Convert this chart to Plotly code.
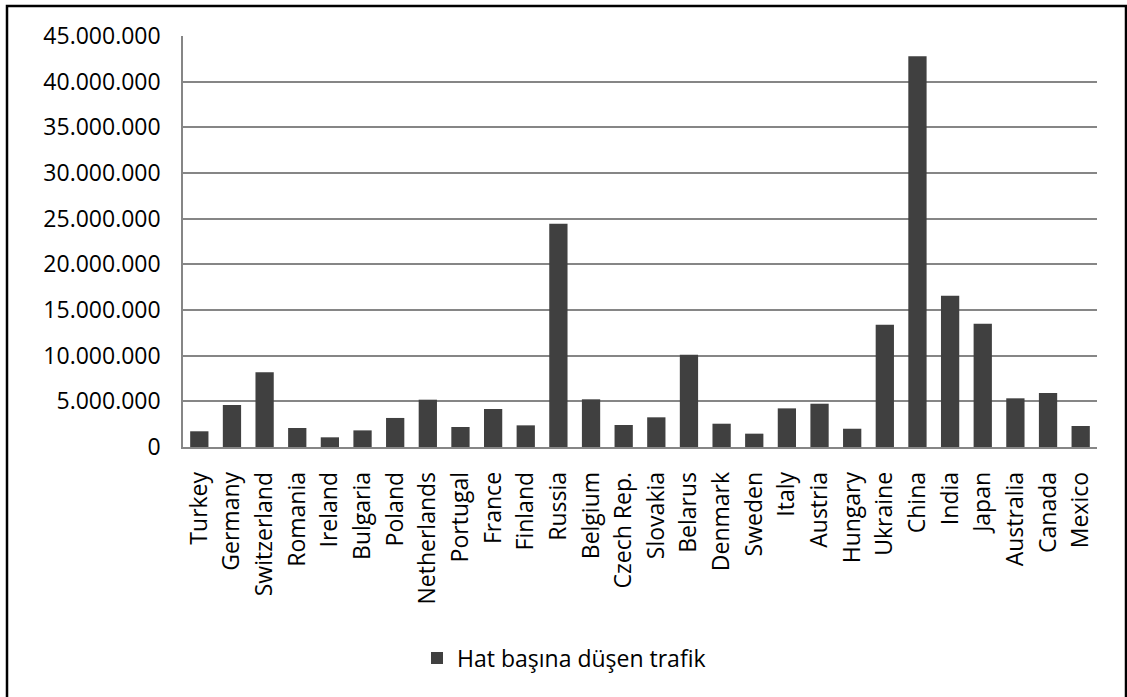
import plotly.graph_objects as go

# Traffic per line, by country
countries = [
    "Turkey", "Germany", "Switzerland", "Romania", "Ireland", "Bulgaria", "Poland",
    "Netherlands", "Portugal", "France", "Finland", "Russia", "Belgium", "Czech Rep.",
    "Slovakia", "Belarus", "Denmark", "Sweden", "Italy", "Austria", "Hungary",
    "Ukraine", "China", "India", "Japan", "Australia", "Canada", "Mexico",
]
traffic_per_line = [
    1720000, 4600000, 8180000, 2080000, 1060000, 1820000, 3180000,
    5180000, 2190000, 4160000, 2370000, 24450000, 5220000, 2410000,
    3250000, 10110000, 2550000, 1460000, 4230000, 4740000, 2000000,
    13390000, 42770000, 16570000, 13500000, 5330000, 5910000, 2300000,
]
series_name = "Hat başına düşen trafik"
y_ticks = [0, 5000000, 10000000, 15000000, 20000000, 25000000,
           30000000, 35000000, 40000000, 45000000]

W, H = 1127, 697
ML, MR, MT, MB = 183, 30, 36, 250
PW, PH = W - ML - MR, H - MT - MB

def px_x(x):
    return (x - ML) / PW

def px_y(y):
    return (H - MB - y) / PH

fig = go.Figure(
    go.Bar(
        x=countries,
        y=traffic_per_line,
        name=series_name,
        marker=dict(color="#404040", line=dict(width=0)),
        showlegend=True,
    )
)

font_family = "Open Sans, Noto Sans, sans-serif"

fig.update_layout(
    width=W,
    height=H,
    margin=dict(l=ML, r=MR, t=MT, b=MB),
    paper_bgcolor="white",
    plot_bgcolor="white",
    separators=",.",
    bargap=0.44,
    font=dict(family=font_family, color="black", size=23),
    showlegend=True,
    legend=dict(
        orientation="h",
        x=px_x(564),
        y=px_y(658),
        xanchor="center",
        yanchor="middle",
        font=dict(size=23, family=font_family, color="black"),
        bgcolor="rgba(0,0,0,0)",
    ),
    xaxis=dict(
        type="category",
        tickangle=-90,
        showgrid=False,
        showline=True,
        linecolor="#868686",
        linewidth=1.5,
        ticks="",
        ticklabelstandoff=14,
        tickfont=dict(size=23, family=font_family, color="black"),
    ),
    yaxis=dict(
        range=[0, 45000000],
        tickvals=y_ticks,
        tickformat=",.0f",
        showgrid=True,
        gridcolor="#868686",
        gridwidth=1.5,
        showline=True,
        linecolor="#868686",
        linewidth=1.5,
        zeroline=False,
        ticks="",
        ticklabelstandoff=16,
        tickfont=dict(size=23, family=font_family, color="black"),
    ),
    shapes=[
        dict(
            type="rect",
            xref="paper",
            yref="paper",
            x0=px_x(7),
            x1=px_x(1126),
            y0=px_y(700),
            y1=px_y(6),
            line=dict(color="black", width=2.5),
            fillcolor="rgba(0,0,0,0)",
            layer="above",
        )
    ],
)

fig.write_html("out.html")
